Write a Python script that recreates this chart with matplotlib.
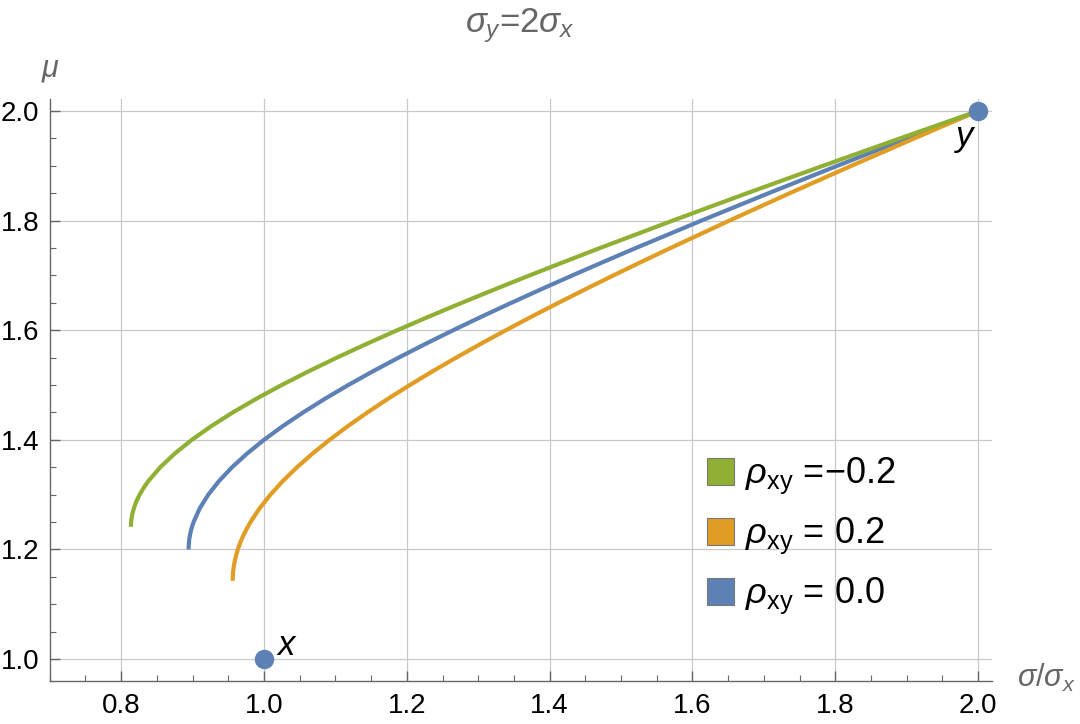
import numpy as np
import matplotlib
matplotlib.use("Agg")
import matplotlib.pyplot as plt
from matplotlib.patches import Rectangle
from matplotlib.ticker import MultipleLocator, FormatStrFormatter

plt.rcParams['font.family'] = ['Liberation Sans', 'DejaVu Sans']
plt.rcParams['mathtext.fontset'] = 'custom'
plt.rcParams['mathtext.rm'] = 'Liberation Sans'
plt.rcParams['mathtext.it'] = 'Liberation Sans:italic'

########## data (sigma / sigma_x , mu)
sigma_neg = [0.8137, 0.8137, 0.8139, 0.8149, 0.8166, 0.8190, 0.8212, 0.8258, 0.8315, 0.8382,
             0.8547, 0.8750, 0.8989, 0.9261, 0.9563, 0.9893, 1.0247, 1.0624, 1.1020, 1.1435,
             1.1866, 1.2311, 1.2769, 1.3239, 1.3719, 1.4208, 1.4705, 1.5723, 1.6765, 1.7827,
             1.8906, 2.0]
mu_neg = [1.2414, 1.245, 1.25, 1.26, 1.27, 1.28, 1.2875, 1.30, 1.3125, 1.325,
          1.35, 1.375, 1.40, 1.425, 1.45, 1.475, 1.50, 1.525, 1.55, 1.575,
          1.60, 1.625, 1.65, 1.675, 1.70, 1.725, 1.75, 1.80, 1.85, 1.90,
          1.95, 2.0]

sigma_pos = [0.9562, 0.9563, 0.9568, 0.9578, 0.9592, 0.9611, 0.9633, 0.9668, 0.9709, 0.9757,
             0.9811, 0.9938, 1.0090, 1.0265, 1.0462, 1.0680, 1.0918, 1.1174, 1.1448, 1.1737,
             1.2042, 1.2360, 1.2691, 1.3033, 1.3387, 1.3750, 1.4123, 1.4504, 1.4893, 1.5289,
             1.5692, 1.6517, 1.7362, 1.8226, 1.9106, 2.0]
mu_pos = [1.1429, 1.15, 1.16, 1.17, 1.18, 1.19, 1.20, 1.2125, 1.225, 1.2375,
          1.25, 1.275, 1.30, 1.325, 1.35, 1.375, 1.40, 1.425, 1.45, 1.475,
          1.50, 1.525, 1.55, 1.575, 1.60, 1.625, 1.65, 1.675, 1.70, 1.725,
          1.75, 1.80, 1.85, 1.90, 1.95, 2.0]

sigma_zero = [0.8944, 0.8945, 0.8947, 0.8949, 0.8955, 0.8969, 0.8989, 0.9014, 0.9100, 0.9220,
              0.9371, 0.9552, 0.9763, 1.0, 1.0262, 1.0548, 1.0854, 1.1180, 1.1524, 1.1885,
              1.2260, 1.2649, 1.3050, 1.3463, 1.3886, 1.4318, 1.4758, 1.5207, 1.6125, 1.7066,
              1.8028, 1.9007, 2.0]
mu_zero = [1.20, 1.205, 1.21, 1.2125, 1.22, 1.23, 1.24, 1.25, 1.275, 1.30,
           1.325, 1.35, 1.375, 1.40, 1.425, 1.45, 1.475, 1.50, 1.525, 1.55,
           1.575, 1.60, 1.625, 1.65, 1.675, 1.70, 1.725, 1.75, 1.80, 1.85,
           1.90, 1.95, 2.0]

asset_names = ['x', 'y']
asset_sigma = [1.0, 2.0]
asset_mu = [1.0, 2.0]

legend_labels = ['$\\rho_{\\mathrm{xy}}$ =\u22120.2', '$\\rho_{\\mathrm{xy}}$ = 0.2', '$\\rho_{\\mathrm{xy}}$ = 0.0']

blue = '#5E81B5'
orange = '#E19C24'
green = '#8FB032'
grey = '#666666'

fig = plt.figure(figsize=(10.8, 7.24), dpi=100)
ax = fig.add_axes([0.0461, 0.0594, 0.8727, 0.8039])

kw = dict(lw=3.0, solid_capstyle='butt', solid_joinstyle='round', zorder=3)
ax.plot(sigma_zero, mu_zero, color=blue, **kw)
ax.plot(sigma_pos, mu_pos, color=orange, **kw)
ax.plot(sigma_neg, mu_neg, color=green, **kw)
ax.plot(asset_sigma, asset_mu, 'o', color=blue, ms=13, clip_on=False, zorder=4)

ax.text(asset_sigma[0] + 0.019, asset_mu[0] + 0.007, asset_names[0], fontsize=25,
        style='italic', ha='left', va='baseline')
ax.text(asset_sigma[1] - 0.007, asset_mu[1] - 0.063, asset_names[1], fontsize=25,
        style='italic', ha='right', va='baseline')

ax.set_xlim(0.7, 2.02)
ax.set_ylim(0.96, 2.022)
ax.xaxis.set_minor_locator(MultipleLocator(0.05))
ax.yaxis.set_minor_locator(MultipleLocator(0.05))
ax.set_xticks([0.8, 1.0, 1.2, 1.4, 1.6, 1.8, 2.0])
ax.set_yticks([1.0, 1.2, 1.4, 1.6, 1.8, 2.0])
ax.xaxis.set_major_formatter(FormatStrFormatter('%.1f'))
ax.yaxis.set_major_formatter(FormatStrFormatter('%.1f'))

ax.grid(True, which='major', color='#c8c8c8', lw=0.9)
ax.set_axisbelow(True)
for s in ['top', 'right']:
    ax.spines[s].set_visible(False)
for s in ['left', 'bottom']:
    ax.spines[s].set_color(grey)
    ax.spines[s].set_linewidth(1.0)
ax.tick_params(which='major', direction='in', length=7, width=1.0, color=grey,
               labelsize=20, pad=9)
ax.tick_params(axis='y', which='major', pad=7.5)
ax.tick_params(which='minor', direction='in', length=4, width=0.8, color=grey)

# labels in gray like the original
fig.text(0.4815, 0.956, '$\\sigma_y$=2$\\sigma_x$', fontsize=25, color=grey, ha='center', va='baseline')
fig.text(0.047, 0.895, '$\\mu$', fontsize=22, color=grey, ha='center', va='baseline')
fig.text(0.942, 0.051, '$\\sigma/\\sigma_x$', fontsize=22, color=grey, ha='left', va='baseline')

# legend drawn by hand, green / orange / blue
colors = [green, orange, blue]
for i in range(3):
    y0 = 0.330 - i * 0.0829
    fig.patches.append(Rectangle((0.6546, y0), 0.025, 0.0373, transform=fig.transFigure,
                                 facecolor=colors[i], edgecolor='#777777', lw=0.8))
    fig.text(0.6898, y0 + 0.003, legend_labels[i], fontsize=26, ha='left', va='baseline')

fig.savefig('out.png', dpi=100)
